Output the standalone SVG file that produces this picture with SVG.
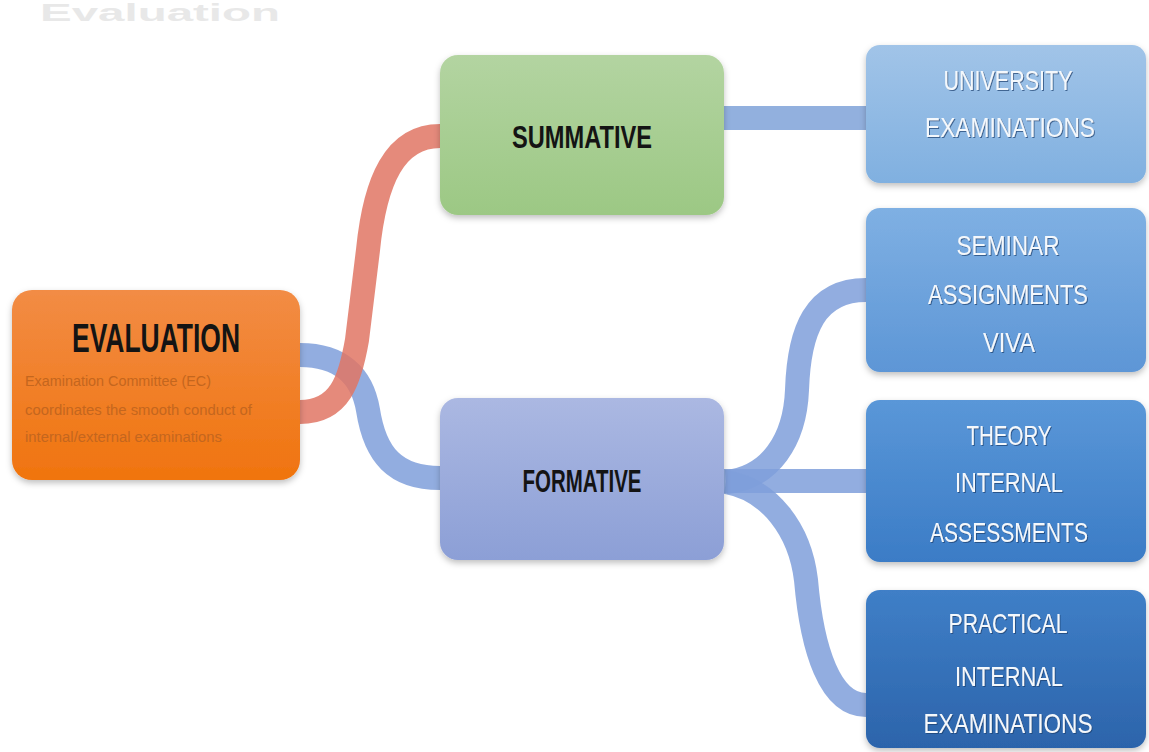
<svg xmlns="http://www.w3.org/2000/svg" width="1149" height="752" viewBox="0 0 1149 752">
<defs>
<linearGradient id="gOrange" x1="0" y1="0" x2="0" y2="1"><stop offset="0" stop-color="#f28c45"/><stop offset="1" stop-color="#f0740e"/></linearGradient>
<linearGradient id="gGreen" x1="0" y1="0" x2="0" y2="1"><stop offset="0" stop-color="#b3d4a1"/><stop offset="1" stop-color="#9cc884"/></linearGradient>
<linearGradient id="gLav" x1="0" y1="0" x2="0" y2="1"><stop offset="0" stop-color="#abb8e2"/><stop offset="1" stop-color="#8c9fd6"/></linearGradient>
<linearGradient id="gB1" x1="0" y1="0" x2="0" y2="1"><stop offset="0" stop-color="#a1c4e8"/><stop offset="1" stop-color="#80b0e0"/></linearGradient>
<linearGradient id="gB2" x1="0" y1="0" x2="0" y2="1"><stop offset="0" stop-color="#7fb0e3"/><stop offset="1" stop-color="#5d96d6"/></linearGradient>
<linearGradient id="gB3" x1="0" y1="0" x2="0" y2="1"><stop offset="0" stop-color="#5a97d8"/><stop offset="1" stop-color="#3b7cc6"/></linearGradient>
<linearGradient id="gB4" x1="0" y1="0" x2="0" y2="1"><stop offset="0" stop-color="#3f7fc7"/><stop offset="1" stop-color="#2c64ab"/></linearGradient>
<filter id="sh" x="-10%" y="-10%" width="120%" height="125%"><feDropShadow dx="0" dy="3" stdDeviation="3" flood-color="#000" flood-opacity="0.25"/></filter>
<filter id="tsh" x="-5%" y="-20%" width="110%" height="140%"><feDropShadow dx="1" dy="1" stdDeviation="0.6" flood-color="#1b3f6e" flood-opacity="0.7"/></filter>
</defs>
<style>
.dark{font-family:"Liberation Sans",Arial,sans-serif;font-weight:bold;fill:#141414;text-anchor:middle}
.wt{font-family:"Liberation Sans",Arial,sans-serif;font-size:28px;fill:#f4f8fc;text-anchor:middle}
.sub{font-family:"Liberation Sans",Arial,sans-serif;font-size:14px;fill:#c4661e}
.con{fill:none;stroke-width:24;stroke-opacity:0.85}
</style>
<rect width="1149" height="752" fill="#ffffff"/>
<text x="40" y="21" font-family="Liberation Sans, Arial, sans-serif" font-size="24" font-weight="bold" fill="#e8e8e8" textLength="240" lengthAdjust="spacingAndGlyphs">Evaluation</text>
<g id="connectors">
<path class="con" d="M300,355 C340,355 362,375 368,410 C375,455 395,478 440,478" stroke="#7f9fdb"/>
<path class="con" d="M300,412 C340,412 350,380 357,340 L368,250 C375,180 395,136 440,136" stroke="#e07564"/>
<path class="con" d="M724,118 L866,118" stroke="#7fa2d8"/>
<path class="con" d="M726,482 C770,478 795,440 797,390 C799,330 815,290 866,290" stroke="#7f9fdb"/>
<path class="con" d="M724,481 L866,481" stroke="#7f9fdb"/>
<path class="con" d="M726,482 C770,490 800,530 806,580 C812,650 830,705 866,705" stroke="#7f9fdb"/>
</g>
<g id="evaluation">
<rect x="12" y="290" width="288" height="190" rx="20" fill="url(#gOrange)" filter="url(#sh)"/>
<text class="dark" x="156" y="352" font-size="40" textLength="168" lengthAdjust="spacingAndGlyphs">EVALUATION</text>
<text class="sub" x="25" y="386" textLength="186" lengthAdjust="spacingAndGlyphs">Examination Committee (EC)</text>
<text class="sub" x="25" y="415" textLength="227" lengthAdjust="spacingAndGlyphs">coordinates the smooth conduct of</text>
<text class="sub" x="25" y="442" textLength="197" lengthAdjust="spacingAndGlyphs">internal/external examinations</text>
</g>
<g id="summative">
<rect x="440" y="55" width="284" height="160" rx="18" fill="url(#gGreen)" filter="url(#sh)"/>
<text class="dark" x="582" y="148" font-size="32" textLength="140" lengthAdjust="spacingAndGlyphs">SUMMATIVE</text>
</g>
<g id="formative">
<rect x="440" y="398" width="284" height="162" rx="18" fill="url(#gLav)" filter="url(#sh)"/>
<text class="dark" x="582" y="492" font-size="32" textLength="119" lengthAdjust="spacingAndGlyphs" fill="#1a1f33">FORMATIVE</text>
</g>
<g id="university">
<rect x="866" y="45" width="280" height="138" rx="14" fill="url(#gB1)" filter="url(#sh)"/>
<g filter="url(#tsh)"><text class="wt" x="1008" y="90" textLength="129" lengthAdjust="spacingAndGlyphs">UNIVERSITY</text>
<text class="wt" x="1010" y="137" textLength="170" lengthAdjust="spacingAndGlyphs">EXAMINATIONS</text></g>
</g>
<g id="seminar">
<rect x="866" y="208" width="280" height="164" rx="14" fill="url(#gB2)" filter="url(#sh)"/>
<g filter="url(#tsh)"><text class="wt" x="1008" y="255" textLength="103" lengthAdjust="spacingAndGlyphs">SEMINAR</text>
<text class="wt" x="1008" y="304" textLength="160" lengthAdjust="spacingAndGlyphs">ASSIGNMENTS</text>
<text class="wt" x="1009" y="352" textLength="52" lengthAdjust="spacingAndGlyphs">VIVA</text></g>
</g>
<g id="theory">
<rect x="866" y="400" width="280" height="162" rx="14" fill="url(#gB3)" filter="url(#sh)"/>
<g filter="url(#tsh)"><text class="wt" x="1009" y="445" textLength="85" lengthAdjust="spacingAndGlyphs">THEORY</text>
<text class="wt" x="1009" y="492" textLength="108" lengthAdjust="spacingAndGlyphs">INTERNAL</text>
<text class="wt" x="1009" y="542" textLength="158" lengthAdjust="spacingAndGlyphs">ASSESSMENTS</text></g>
</g>
<g id="practical">
<rect x="866" y="590" width="280" height="158" rx="14" fill="url(#gB4)" filter="url(#sh)"/>
<g filter="url(#tsh)"><text class="wt" x="1008" y="633" textLength="119" lengthAdjust="spacingAndGlyphs">PRACTICAL</text>
<text class="wt" x="1009" y="686" textLength="108" lengthAdjust="spacingAndGlyphs">INTERNAL</text>
<text class="wt" x="1008" y="733" textLength="169" lengthAdjust="spacingAndGlyphs">EXAMINATIONS</text></g>
</g>
</svg>
